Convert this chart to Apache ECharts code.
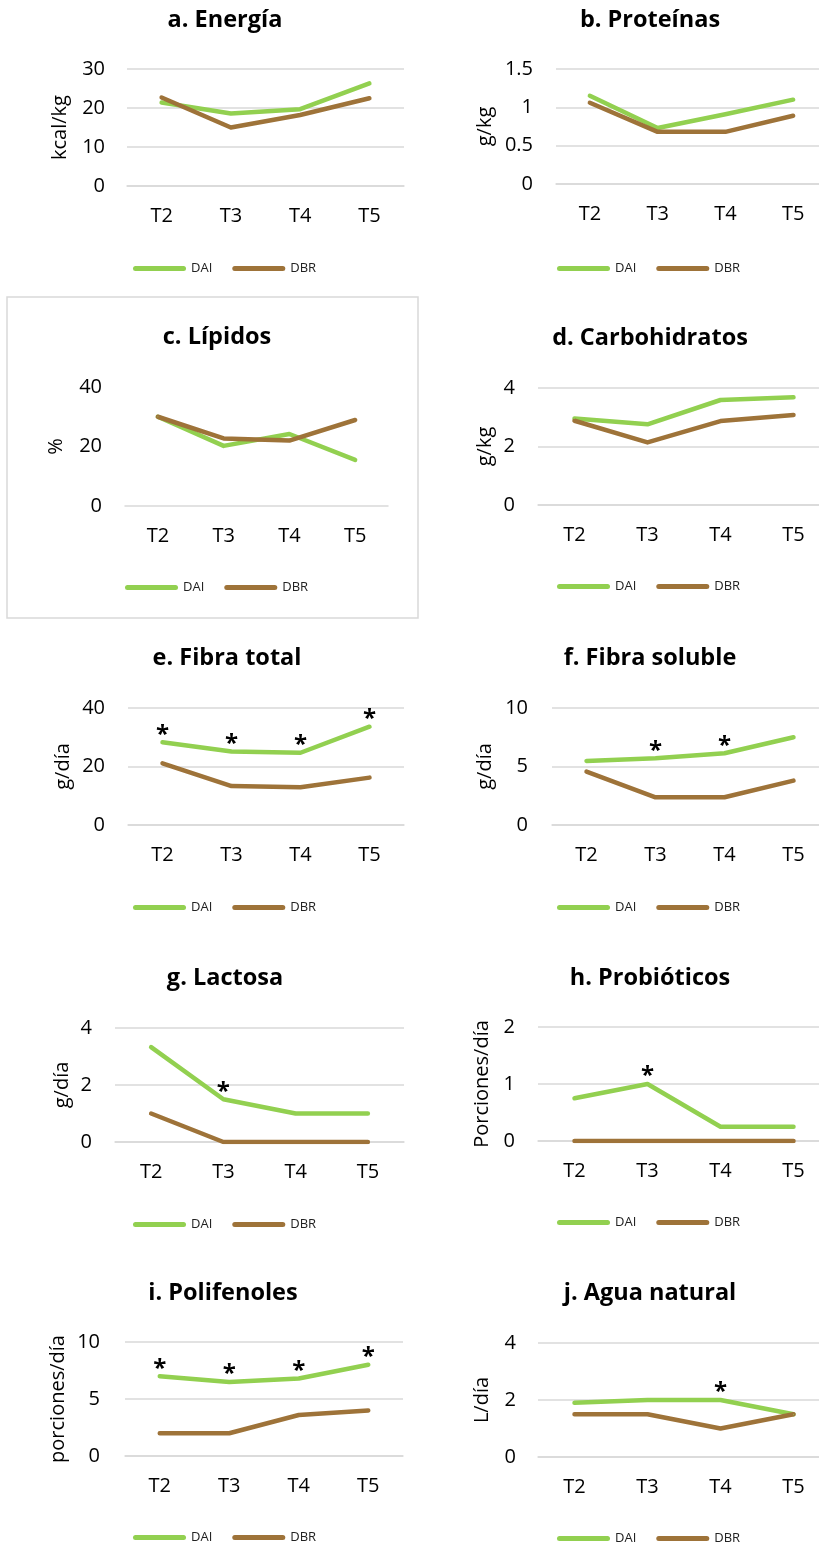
<!DOCTYPE html>
<html>
<head>
<meta charset="utf-8">
<script src="https://cdn.jsdelivr.net/npm/echarts@6/dist/echarts.min.js"></script>
<style>
html, body { margin: 0; padding: 0; background: #fff; }
#main { width: 819px; height: 1543px; }
</style>
</head>
<body>
<div id="main"></div>
<script>
const categories = ['T2', 'T3', 'T4', 'T5'];
const seriesNames = ['DAI', 'DBR'];

const titles = ['a. Energía', 'b. Proteínas', 'c. Lípidos', 'd. Carbohidratos', 'e. Fibra total',
  'f. Fibra soluble', 'g. Lactosa', 'h. Probióticos', 'i. Polifenoles', 'j. Agua natural'];
const units = ['kcal/kg', 'g/kg', '%', 'g/kg', 'g/día', 'g/día', 'g/día', 'Porciones/día', 'porciones/día', 'L/día'];
const yMax = [30, 1.5, 40, 4, 40, 10, 4, 2, 10, 4];
const yStep = [10, 0.5, 20, 2, 20, 5, 2, 1, 5, 2];

const energiaDAI = [21.4, 18.6, 19.7, 26.3];
const energiaDBR = [22.7, 15.0, 18.2, 22.5];
const proteinasDAI = [1.15, 0.73, 0.91, 1.10];
const proteinasDBR = [1.06, 0.68, 0.68, 0.89];
const lipidosDAI = [30.0, 20.2, 24.2, 15.5];
const lipidosDBR = [30.0, 22.7, 22.0, 28.9];
const carbohidratosDAI = [2.96, 2.76, 3.59, 3.68];
const carbohidratosDBR = [2.88, 2.14, 2.87, 3.08];
const fibraTotalDAI = [28.3, 25.1, 24.7, 33.6];
const fibraTotalDBR = [21.1, 13.3, 12.9, 16.2];
const fibraSolubleDAI = [5.47, 5.7, 6.13, 7.5];
const fibraSolubleDBR = [4.56, 2.37, 2.37, 3.79];
const lactosaDAI = [3.33, 1.5, 1.0, 1.0];
const lactosaDBR = [1.0, 0, 0, 0];
const probioticosDAI = [0.75, 1.0, 0.25, 0.25];
const probioticosDBR = [0, 0, 0, 0];
const polifenolesDAI = [7.0, 6.5, 6.8, 8.0];
const polifenolesDBR = [2.0, 2.0, 3.6, 4.0];
const aguaDAI = [1.9, 2.0, 2.0, 1.5];
const aguaDBR = [1.5, 1.5, 1.0, 1.5];

// puntos de DAI marcados con * (indice de T)
const energiaStars = [];
const proteinasStars = [];
const lipidosStars = [];
const carbohidratosStars = [];
const fibraTotalStars = [0, 1, 2, 3];
const fibraSolubleStars = [1, 2];
const lactosaStars = [1];
const probioticosStars = [1];
const polifenolesStars = [0, 1, 2, 3];
const aguaStars = [2];

const daiData = [energiaDAI, proteinasDAI, lipidosDAI, carbohidratosDAI, fibraTotalDAI,
  fibraSolubleDAI, lactosaDAI, probioticosDAI, polifenolesDAI, aguaDAI];
const dbrData = [energiaDBR, proteinasDBR, lipidosDBR, carbohidratosDBR, fibraTotalDBR,
  fibraSolubleDBR, lactosaDBR, probioticosDBR, polifenolesDBR, aguaDBR];
const stars = [energiaStars, proteinasStars, lipidosStars, carbohidratosStars, fibraTotalStars,
  fibraSolubleStars, lactosaStars, probioticosStars, polifenolesStars, aguaStars];

// posiciones de cada panel (px)
const layout = [
  { left: 127, top: 69, bottom: 186, width: 277, tx: 220, ty: 20, lm: 22, ng: 57, lx: 133, ly: 266 },
  { left: 556, top: 69, bottom: 184, width: 271, tx: 645, ty: 20, lm: 23, ng: 61, lx: 557, ly: 266 },
  { left: 125, top: 387, bottom: 506, width: 263, tx: 212, ty: 337, lm: 23, ng: 59, lx: 125, ly: 585, noSplit: true },
  { left: 538, top: 388, bottom: 505, width: 292, tx: 645, ty: 338, lm: 23, ng: 43, lx: 557, ly: 584 },
  { left: 128, top: 708, bottom: 825, width: 276, tx: 222, ty: 658, lm: 23, ng: 55, lx: 133, ly: 905 },
  { left: 552, top: 708, bottom: 825, width: 276, tx: 645, ty: 658, lm: 24, ng: 57, lx: 557, ly: 905 },
  { left: 115, top: 1028, bottom: 1142, width: 289, tx: 220, ty: 978, lm: 23, ng: 43, lx: 133, ly: 1222 },
  { left: 538, top: 1027, bottom: 1141, width: 292, tx: 645, ty: 978, lm: 23, ng: 46, lx: 557, ly: 1220 },
  { left: 125, top: 1342, bottom: 1456, width: 278, tx: 218, ty: 1293, lm: 25, ng: 57, lx: 133, ly: 1535 },
  { left: 538, top: 1343, bottom: 1457, width: 292, tx: 645, ty: 1293, lm: 22, ng: 46, lx: 557, ly: 1536 }
];

const FONT = 'Open Sans';
const GREEN = '#92D050';
const BROWN = '#9E7339';
const GRID_GREY = '#D9D9D9';
const PILL = 'path://M2.5,0H50.5A2.5,2.5,0,0,1,50.5,5H2.5A2.5,2.5,0,0,1,2.5,0Z';

let option = {
  animation: false,
  backgroundColor: '#fff',
  title: [],
  legend: [],
  grid: [],
  xAxis: [],
  yAxis: [],
  series: [],
  graphic: [
    {
      type: 'rect',
      shape: { x: 7, y: 297, width: 411, height: 321 },
      style: { fill: 'none', stroke: GRID_GREY, lineWidth: 1.5 }
    }
  ]
};

layout.forEach(function (p, i) {
  option.title.push({
    text: titles[i],
    left: p.tx,
    top: p.ty - 17,
    textAlign: 'center',
    textStyle: { fontFamily: FONT, fontWeight: 'bold', fontSize: 23.5, color: '#000' }
  });
  option.legend.push({
    data: seriesNames,
    left: p.lx - 5,
    top: p.ly - 9,
    icon: PILL,
    itemWidth: 53,
    itemHeight: 5,
    itemGap: 20,
    selectedMode: false,
    textStyle: { fontFamily: FONT, fontSize: 13, color: '#222' }
  });
  option.grid.push({
    left: p.left,
    top: p.top,
    width: p.width,
    height: p.bottom - p.top,
    outerBoundsMode: 'none'
  });
  option.xAxis.push({
    type: 'category',
    gridIndex: i,
    data: categories,
    boundaryGap: true,
    axisTick: { show: false },
    axisLine: { show: true, lineStyle: { color: GRID_GREY, width: 1.5 } },
    axisLabel: { fontFamily: FONT, fontSize: 20, color: '#000', margin: 20 }
  });
  option.yAxis.push({
    type: 'value',
    gridIndex: i,
    min: 0,
    max: yMax[i],
    interval: yStep[i],
    name: units[i],
    nameLocation: 'middle',
    nameGap: p.ng,
    nameTextStyle: { fontFamily: FONT, fontSize: 20, color: '#000' },
    axisLine: { show: false },
    axisTick: { show: false },
    axisLabel: { fontFamily: FONT, fontSize: 20, color: '#000', margin: p.lm },
    splitLine: { show: !p.noSplit, lineStyle: { color: GRID_GREY, width: 1.5 } }
  });

  const dai = daiData[i].map(function (v, k) {
    if (stars[i].indexOf(k) < 0) return v;
    return {
      value: v,
      label: {
        show: true,
        formatter: '*',
        position: 'top',
        distance: -5,
        fontFamily: FONT,
        fontWeight: 'bold',
        fontSize: 24,
        color: '#000'
      }
    };
  });

  option.series.push({
    name: 'DAI',
    type: 'line',
    xAxisIndex: i,
    yAxisIndex: i,
    data: dai,
    symbol: 'circle',
    symbolSize: 1,
    showSymbol: true,
    color: GREEN,
    lineStyle: { color: GREEN, width: 4.5, cap: 'round', join: 'round' }
  });
  option.series.push({
    name: 'DBR',
    type: 'line',
    xAxisIndex: i,
    yAxisIndex: i,
    data: dbrData[i],
    symbol: 'none',
    color: BROWN,
    lineStyle: { color: BROWN, width: 4.5, cap: 'round', join: 'round' }
  });
});

let myChart = echarts.init(document.getElementById('main'));
myChart.setOption(option);
</script>
</body>
</html>
